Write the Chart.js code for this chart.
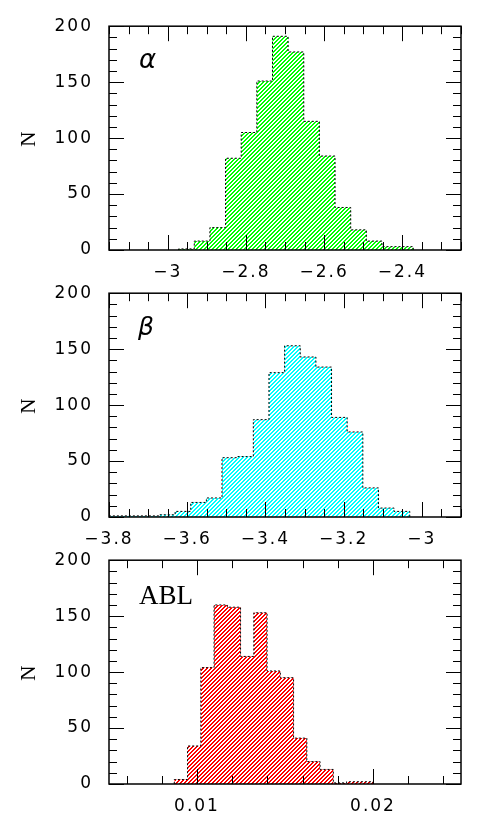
<!DOCTYPE html>
<html>
<head>
<meta charset="utf-8">
<script src="https://cdn.jsdelivr.net/npm/chart.js@4.4.1/dist/chart.umd.min.js"></script>
<style>
  html, body { margin: 0; padding: 0; background: #fff; }
  #wrap { position: relative; width: 491px; height: 840px; }
  canvas { position: absolute; left: 0; }
</style>
</head>
<body>
<div id="wrap">
  <canvas id="alpha" width="491" height="290" style="top:0px"></canvas>
  <canvas id="beta" width="491" height="290" style="top:267px"></canvas>
  <canvas id="abl" width="491" height="290" style="top:534px"></canvas>
</div>
<script>
// histogram bin edges and counts
var alphaEdges = [-2.972, -2.932, -2.892, -2.852, -2.812, -2.772, -2.732, -2.692, -2.652, -2.612, -2.572, -2.532, -2.492, -2.452, -2.412, -2.372];
var alphaCounts = [1, 8, 20, 82, 105, 151, 191, 177, 115, 84, 38, 18, 8, 3, 3];

var betaEdges = [-3.831, -3.791, -3.751, -3.711, -3.671, -3.631, -3.591, -3.551, -3.511, -3.471, -3.431, -3.391, -3.351, -3.311, -3.271, -3.231, -3.191, -3.151, -3.111, -3.071, -3.031];
var betaCounts = [1, 1, 1, 1, 2, 5, 13, 17, 53, 54, 87, 129, 153, 143, 134, 89, 76, 26, 8, 5];

var ablEdges = [0.00871, 0.009463, 0.010216, 0.010969, 0.011722, 0.012475, 0.013228, 0.013981, 0.014734, 0.015487, 0.01624, 0.016993, 0.017746, 0.018499, 0.019252, 0.020005];
var ablCounts = [4, 34, 104, 160, 158, 114, 153, 101, 95, 41, 20, 13, 1, 2, 2];

// tick values and labels
var alphaTicks = [-3, -2.8, -2.6, -2.4];
var alphaTickLabels = ['\u22123', '\u22122.8', '\u22122.6', '\u22122.4'];
var betaTicks = [-3.8, -3.6, -3.4, -3.2, -3];
var betaTickLabels = ['\u22123.8', '\u22123.6', '\u22123.4', '\u22123.2', '\u22123'];
var ablTicks = [0.01, 0.02];
var ablTickLabels = ['0.01', '0.02'];
var countTicks = [0, 50, 100, 150, 200];
var countTickLabels = ['0', '50', '100', '150', '200'];

function hatch(color) {
  var c = document.createElement('canvas');
  c.width = 4; c.height = 4;
  var g = c.getContext('2d');
  g.fillStyle = '#fff';
  g.fillRect(0, 0, 4, 4);
  g.fillStyle = color;
  for (var px = 0; px < 4; px++) {
    for (var py = 0; py < 4; py++) {
      if ((px + py) % 4 < 2) g.fillRect(px, py, 1, 1);
    }
  }
  return g.createPattern(c, 'repeat');
}

function stepPoints(edges, counts) {
  var pts = [{x: edges[0], y: 0}];
  for (var i = 0; i < counts.length; i++) pts.push({x: edges[i], y: counts[i]});
  pts.push({x: edges[edges.length - 1], y: 0});
  return pts;
}

var spacing = {
  id: 'spacing',
  beforeUpdate: function(chart) { chart.ctx.letterSpacing = '2px'; },
  beforeDraw: function(chart) { chart.ctx.letterSpacing = '2px'; }
};

var frame = {
  id: 'frame',
  afterDatasetsDraw: function(chart, args, opts) {
    var ctx = chart.ctx, a = chart.chartArea;
    var xs = chart.scales.x, ys = chart.scales.y;
    ctx.save();
    ctx.letterSpacing = '0px';
    ctx.strokeStyle = '#000';
    ctx.lineWidth = 1;
    ctx.beginPath();
    var v, px, len;
    var n0 = Math.ceil(xs.min / opts.minorX - 1e-6);
    for (var k = n0; k * opts.minorX <= xs.max + 1e-9; k++) {
      v = k * opts.minorX;
      px = Math.round(xs.getPixelForValue(v)) + 0.5;
      len = opts.majorX.some(function(t) { return Math.abs(t - v) < opts.minorX / 10; }) ? 15 : 8;
      ctx.moveTo(px, a.bottom); ctx.lineTo(px, a.bottom - len);
      ctx.moveTo(px, a.top); ctx.lineTo(px, a.top + len);
    }
    for (var j = 0; j <= 200; j += 10) {
      px = Math.round(ys.getPixelForValue(j)) + 0.5;
      len = j % 50 === 0 ? 15 : 8;
      ctx.moveTo(a.left, px); ctx.lineTo(a.left + len, px);
      ctx.moveTo(a.right, px); ctx.lineTo(a.right - len, px);
    }
    ctx.stroke();
    ctx.lineWidth = 1.5;
    ctx.strokeRect(a.left, a.top, a.right - a.left, a.bottom - a.top);
    ctx.fillStyle = '#000';
    ctx.font = opts.font;
    ctx.textBaseline = 'alphabetic';
    ctx.fillText(opts.label, a.left + opts.dx, a.top + opts.dy);
    ctx.restore();
  }
};

function makePanel(id, edges, counts, color, xmin, xmax, ticks, tickLabels, minorX, label, font, dx, dy) {
  var ctx = document.getElementById(id).getContext('2d');
  return new Chart(ctx, {
    type: 'line',
    data: {
      datasets: [{
        data: stepPoints(edges, counts),
        stepped: 'before',
        fill: 'origin',
        backgroundColor: hatch(color),
        borderColor: '#000',
        borderWidth: 1,
        borderDash: [2, 2],
        pointRadius: 0
      }]
    },
    options: {
      responsive: false,
      animation: false,
      layout: { padding: { left: 10, right: 30, top: 25, bottom: 0 } },
      plugins: {
        legend: { display: false },
        tooltip: { enabled: false },
        frame: { minorX: minorX, majorX: ticks, label: label, font: font, dx: dx, dy: dy }
      },
      scales: {
        x: {
          type: 'linear',
          min: xmin,
          max: xmax,
          afterBuildTicks: function(s) { s.ticks = ticks.map(function(t) { return {value: t}; }); },
          afterFit: function(s) { s.height = 40; },
          grid: { display: false, drawTicks: false },
          border: { display: false },
          ticks: {
            autoSkip: false,
            maxRotation: 0,
            padding: 12,
            color: '#000',
            font: { family: 'DejaVu Sans', size: 17 },
            callback: function(v, i) { return tickLabels[i]; }
          }
        },
        y: {
          min: 0,
          max: 200,
          afterBuildTicks: function(s) { s.ticks = countTicks.map(function(t) { return {value: t}; }); },
          afterFit: function(s) { s.width = 99; },
          grid: { display: false, drawTicks: false },
          border: { display: false },
          title: {
            display: true,
            text: 'N',
            color: '#000',
            font: { family: 'Liberation Serif', size: 21 },
            padding: { top: 7, bottom: 0 }
          },
          ticks: {
            padding: 16,
            color: '#000',
            font: { family: 'DejaVu Sans', size: 17 },
            callback: function(v, i) { return countTickLabels[i]; }
          }
        }
      }
    },
    plugins: [spacing, frame]
  });
}

makePanel('alpha', alphaEdges, alphaCounts, '#00ff00', -3.15, -2.25, alphaTicks, alphaTickLabels, 0.05,
  '\u03b1', 'italic 26px "DejaVu Sans"', 30, 42);
makePanel('beta', betaEdges, betaCounts, '#00ffff', -3.8, -2.9, betaTicks, betaTickLabels, 0.05,
  '\u03b2', 'italic 25px "DejaVu Sans"', 29, 42);
makePanel('abl', ablEdges, ablCounts, '#ff0000', 0.005, 0.025, ablTicks, ablTickLabels, 0.002,
  'ABL', '27px "Liberation Serif"', 30, 44);
</script>
</body>
</html>
